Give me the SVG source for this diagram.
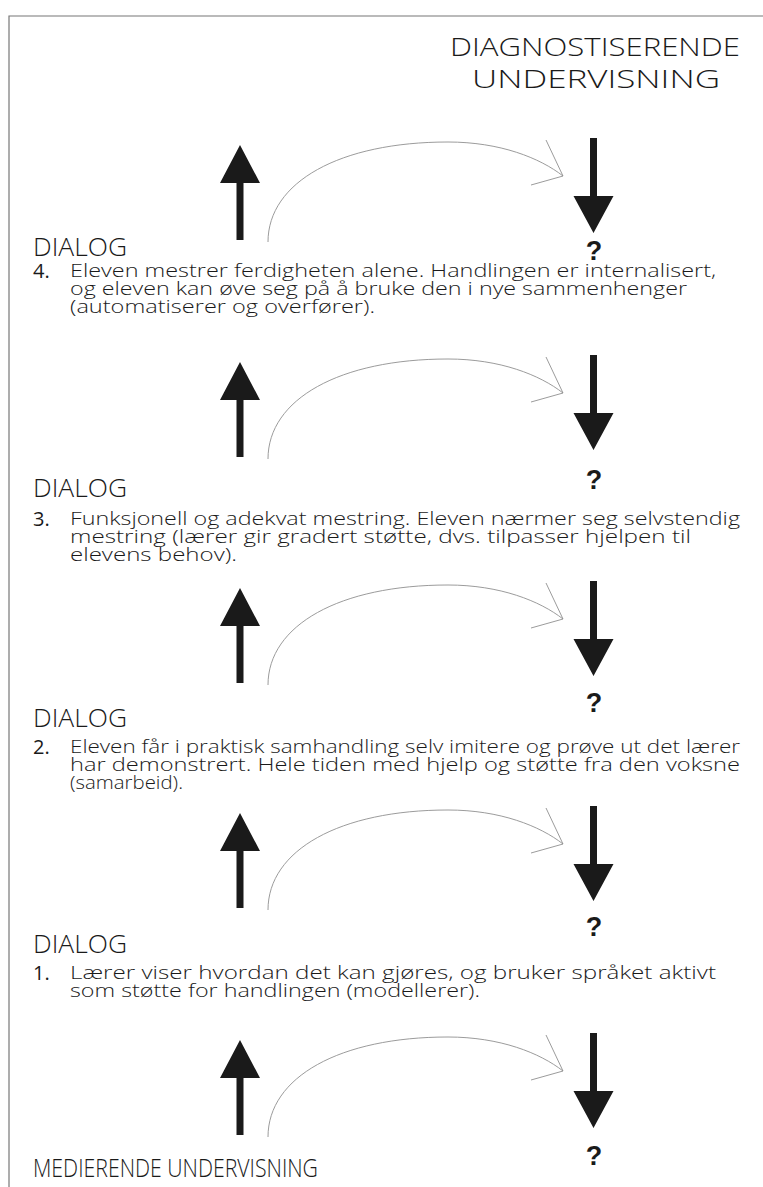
<svg xmlns="http://www.w3.org/2000/svg" xmlns:xlink="http://www.w3.org/1999/xlink" width="763" height="1187" viewBox="0 0 763 1187">
<style>
.frame{fill:none;stroke:#777;stroke-width:1.2}
.big{font-family:"Open Sans","Liberation Sans",sans-serif;font-weight:300;font-size:26px;fill:#1a1a1a}
.txt{font-family:"Open Sans","Liberation Sans",sans-serif;font-weight:300;font-size:18px;fill:#1a1a1a}
.num{font-family:"Open Sans","Liberation Sans",sans-serif;font-weight:400;font-size:20px;fill:#1a1a1a}
.q{font-family:"Liberation Sans",Arial,sans-serif;font-weight:bold;font-size:27px;fill:#1a1a1a;text-anchor:middle}
.solid{fill:#1a1a1a;stroke:none}
.arc{fill:none;stroke:#909090;stroke-width:0.9}
</style>
<defs>
<g id="conn">
<path class="solid" d="M240,0 L260,38 L243.5,38 L243.5,95 L236.5,95 L236.5,38 L220,38 Z"/>
<path class="solid" d="M590,-7 L597,-7 L597,51 L613.5,51 L593.5,88 L573.5,51 L590,51 Z"/>
<path class="arc" d="M268,97 C268,37 340,-3 448,-3 C500,-3 540,13 563,31"/>
<path class="arc" d="M546,-5 L563,31 L531,40"/>
</g>
</defs>
<path class="frame" d="M9,1187 V16 H763"/>
<g id="connectors">
<use xlink:href="#conn" transform="translate(0,145)"/>
<use xlink:href="#conn" transform="translate(0,362)"/>
<use xlink:href="#conn" transform="translate(0,588)"/>
<use xlink:href="#conn" transform="translate(0,813)"/>
<use xlink:href="#conn" transform="translate(0,1040)"/>
</g>
<g id="title">
<text class="big" x="450" y="56" textLength="290" lengthAdjust="spacingAndGlyphs">DIAGNOSTISERENDE</text>
<text class="big" x="472" y="88" textLength="248" lengthAdjust="spacingAndGlyphs">UNDERVISNING</text>
</g>
<g id="q1"><text class="q" x="594" y="260">?</text></g>
<g id="q2"><text class="q" x="594" y="489">?</text></g>
<g id="q3"><text class="q" x="594" y="712">?</text></g>
<g id="q4"><text class="q" x="594" y="936">?</text></g>
<g id="q5"><text class="q" x="594" y="1165">?</text></g>
<g id="dialog4"><text class="big" x="33" y="256" textLength="94" lengthAdjust="spacingAndGlyphs">DIALOG</text></g>
<g id="step4">
<text class="num" x="33" y="278">4.</text>
<text class="txt" x="70" y="277" textLength="646" lengthAdjust="spacingAndGlyphs">Eleven mestrer ferdigheten alene. Handlingen er internalisert,</text>
<text class="txt" x="70" y="295" textLength="617" lengthAdjust="spacingAndGlyphs">og eleven kan øve seg på å bruke den i nye sammenhenger</text>
<text class="txt" x="70" y="313" textLength="305" lengthAdjust="spacingAndGlyphs">(automatiserer og overfører).</text>
</g>
<g id="dialog3"><text class="big" x="33" y="497" textLength="94" lengthAdjust="spacingAndGlyphs">DIALOG</text></g>
<g id="step3">
<text class="num" x="33" y="526">3.</text>
<text class="txt" x="70" y="525" textLength="670" lengthAdjust="spacingAndGlyphs">Funksjonell og adekvat mestring. Eleven nærmer seg selvstendig</text>
<text class="txt" x="70" y="543" textLength="621" lengthAdjust="spacingAndGlyphs">mestring (lærer gir gradert støtte, dvs. tilpasser hjelpen til</text>
<text class="txt" x="70" y="561" textLength="167" lengthAdjust="spacingAndGlyphs">elevens behov).</text>
</g>
<g id="dialog2"><text class="big" x="33" y="727" textLength="94" lengthAdjust="spacingAndGlyphs">DIALOG</text></g>
<g id="step2">
<text class="num" x="33" y="754">2.</text>
<text class="txt" x="70" y="753" textLength="670" lengthAdjust="spacingAndGlyphs">Eleven får i praktisk samhandling selv imitere og prøve ut det lærer</text>
<text class="txt" x="70" y="771" textLength="670" lengthAdjust="spacingAndGlyphs">har demonstrert. Hele tiden med hjelp og støtte fra den voksne</text>
<text class="txt" x="70" y="789" textLength="113" lengthAdjust="spacingAndGlyphs">(samarbeid).</text>
</g>
<g id="dialog1"><text class="big" x="33" y="953" textLength="94" lengthAdjust="spacingAndGlyphs">DIALOG</text></g>
<g id="step1">
<text class="num" x="33" y="980">1.</text>
<text class="txt" x="70" y="979" textLength="646" lengthAdjust="spacingAndGlyphs">Lærer viser hvordan det kan gjøres, og bruker språket aktivt</text>
<text class="txt" x="70" y="997" textLength="410" lengthAdjust="spacingAndGlyphs">som støtte for handlingen (modellerer).</text>
</g>
<g id="bottom"><text class="big" x="33" y="1177" textLength="285" lengthAdjust="spacingAndGlyphs">MEDIERENDE UNDERVISNING</text></g>
</svg>
